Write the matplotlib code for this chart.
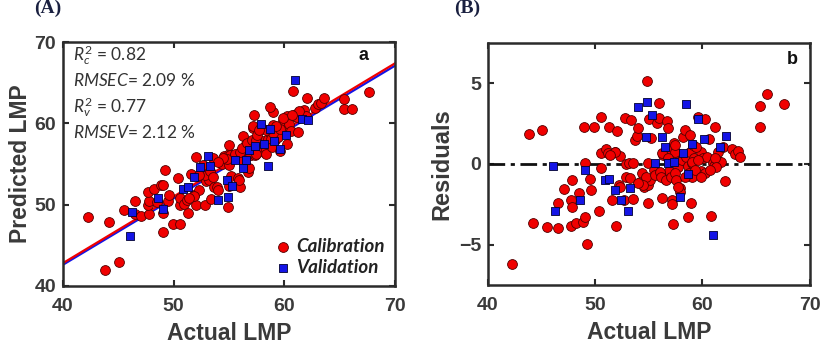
import matplotlib
matplotlib.use("Agg")
import matplotlib.pyplot as plt
import numpy as np

# calibration set: actual LMP and residual (actual - predicted)
cal_actual = np.array([
    42.27, 43.8, 45.07, 44.2, 45.5, 46.5, 46.5, 47.05, 47.8, 47.7,
    47.8, 47.7, 48.2, 48.5, 48.86, 49.08, 49.0, 49.9, 49.07, 49.48,
    49.57, 49.26, 50.57, 50.57, 50.57, 50.4, 50.97, 51.25, 51.19, 51.56,
    52.03, 51.87, 51.97, 52.19, 52.28, 52.68, 52.8, 53.37, 52.9, 53.15,
    52.84, 53.27, 53.52, 53.52, 53.68, 53.9, 53.99, 54.14, 54.4, 54.55,
    54.86, 54.95, 54.95, 55.08, 55.0, 55.17, 54.95, 55.48, 55.76, 55.95,
    55.92, 56.26, 56.32, 56.54, 56.7, 56.79, 56.88, 57.0, 57.16, 57.25,
    57.19, 57.35, 57.56, 57.72, 57.87, 57.87, 58.06, 58.18, 58.34, 58.5,
    58.65, 58.74, 58.8, 58.87, 58.99, 59.05, 58.96, 58.68, 59.18, 59.58,
    59.9, 60.05, 60.2, 59.9, 60.27, 60.42, 60.6, 60.77, 60.98, 61.08,
    61.2, 61.39, 61.5, 61.76, 62.07, 61.92, 62.78, 63.0, 63.31, 63.53,
    65.33, 65.33, 66.05, 67.6,
    56.2, 57.44, 56.79, 59.12, 59.43, 59.0, 59.58, 59.27, 54.77, 54.45,
    53.99, 55.54, 56.0, 56.17, 56.63, 57.1, 57.41, 57.56, 58.34, 59.89,
    57.72, 61.14, 61.3, 60.67, 51.81, 51.34, 52.28, 57.41])
cal_resid = np.array([
    -6.2, 1.84, 2.1, -3.64, -3.9, -4.0, -2.4, -1.53, -1.0, -2.23,
    -2.64, -3.84, -3.68, -1.82, -3.57, -3.3, 2.31, 2.31, 0.04, -0.93,
    -1.61, -4.96, 2.93, 0.66, -0.27, -2.9, 0.93, 2.31, 0.66, -2.23,
    2.05, 0.72, -3.84, -1.3, 0.5, -2.23, 2.83, 2.73, 0.0, 0.08,
    -0.79, -0.89, -2.19, 0.08, 1.49, 1.74, 2.21, -1.1, -0.58, -1.4,
    5.14, -1.3, -2.44, -0.99, 2.77, 1.59, 0.04, -0.37, 2.52, 3.76,
    2.83, -2.13, 0.56, -0.95, 2.69, 2.25, -0.41, 0.87, -2.23, -3.72,
    -2.48, 1.28, 0.66, -0.17, -1.51, -1.71, 0.25, 1.69, 2.1, 0.45,
    -0.12, -0.54, 0.76, 1.8, -0.79, 0.04, -2.4, -3.3, 0.35, 2.93,
    0.76, 0.35, 2.77, -0.41, -0.58, 0.45, 1.53, -3.22, 0.04, -0.1,
    2.31, 0.25, 0.76, 0.14, -1.05, 1.07, 0.91, 0.62, 0.83, 0.45,
    3.62, 2.31, 4.32, 3.7,
    0.66, 0.76, 0.35, 1.18, 1.07, 0.14, 0.25, -0.37, -0.79, -1.3,
    -1.2, -0.68, -0.48, -0.79, -0.99, -0.79, -0.58, -0.99, -0.79, -0.79,
    -1.4, 0.35, -0.17, -0.37, 0.76, 0.56, -1.4, 1.18])

# validation set
val_actual = np.array([
    46.06, 46.22, 48.55, 49.08, 50.88, 51.25, 51.81, 52.37, 53.06, 53.27,
    54.02, 54.86, 54.77, 55.3, 55.55, 56.23, 56.54, 56.79, 57.35, 57.87,
    58.18, 58.5, 58.65, 59.05, 59.58, 60.14, 60.98, 61.6, 62.16])
val_resid = np.array([
    -0.12, -2.89, -2.23, -0.37, -0.99, -0.93, -1.61, -2.23, -2.89, -1.47,
    3.51, 3.86, 1.69, 3.04, 0.04, 1.69, 1.07, 0.08, 0.14, -2.07,
    0.7, 3.7, -0.62, 1.24, 2.77, 1.53, -4.4, 1.07, 1.74])

cal_pred = cal_actual - cal_resid
val_pred = val_actual - val_resid

# fitted lines as drawn in the figure: [slope, intercept]
fit_cal = [0.82, 10.0]
fit_val = [0.817, 9.92]

stats = [r"$R_c^2$ = 0.82", r"$RMSEC$= 2.09 %", r"$R_v^2$ = 0.77", r"$RMSEV$= 2.12 %"]

plt.rcParams['mathtext.fontset'] = 'custom'
plt.rcParams['mathtext.rm'] = 'Lato'
plt.rcParams['mathtext.it'] = 'Lato:italic'

red = '#f00000'
blue = '#1414e6'
dark = '#2b2b2b'
txt = '#3a3a3a'

fig = plt.figure(figsize=(8.27, 3.5), dpi=100)
axA = fig.add_axes([0.076, 0.183, 0.402, 0.697])
axB = fig.add_axes([0.590, 0.186, 0.389, 0.691])


def style(ax):
    for s in ax.spines.values():
        s.set_linewidth(1.8)
        s.set_color(dark)
    ax.tick_params(direction='in', length=4, width=1.5, color=dark,
                   top=True, right=True, labelsize=14, labelcolor=txt)
    ax.tick_params(axis='x', pad=9)
    ax.tick_params(axis='y', pad=5)
    for lab in ax.get_xticklabels() + ax.get_yticklabels():
        lab.set_fontfamily('Liberation Sans')
        lab.set_fontweight('bold')


# panel A
xs = np.array([40, 70])
axA.plot(xs, np.polyval(fit_val, xs), color=blue, lw=1.6, zorder=2)
axA.plot(xs, np.polyval(fit_cal, xs), color=red, lw=1.6, zorder=2)
axA.scatter(cal_actual, cal_pred, s=50, c=red, edgecolors='#500000', linewidths=0.6,
            zorder=3, label='Calibration')
axA.scatter(val_actual, val_pred, s=27, marker='s', c=blue, edgecolors='#000030',
            linewidths=0.6, zorder=4, label='Validation')
axA.set_xlim(40, 70)
axA.set_ylim(40, 70)
axA.set_xticks([40, 50, 60, 70])
axA.set_yticks([40, 50, 60, 70])
style(axA)
axA.set_xlabel('Actual LMP', fontsize=16.5, fontweight='bold', color=txt,
               family='Liberation Sans', labelpad=5)
axA.set_ylabel('Predicted LMP', fontsize=16.5, fontweight='bold', color=txt,
               family='Liberation Sans', labelpad=2)
for s, yy in zip(stats, [0.947, 0.842, 0.734, 0.627]):
    axA.text(0.032, yy, s, transform=axA.transAxes, fontsize=12.5, color='#333333',
             family='Lato', va='center', ha='left')
axA.text(0.89, 0.945, 'a', transform=axA.transAxes, fontsize=13, fontweight='bold',
         family='Liberation Sans', va='center', color='#111111')
leg = axA.legend(loc='lower right', frameon=False, handletextpad=0.1,
                 borderaxespad=0.15, labelspacing=0.2, handlelength=1.2,
                 prop={'family': 'Lato', 'style': 'italic', 'weight': 'bold', 'size': 13.5})
for t in leg.get_texts():
    t.set_color('#222222')

# panel B
axB.axhline(0, color='#111111', lw=2, ls='-.', dashes=(6, 2, 1.5, 2), zorder=2)
axB.scatter(cal_actual, cal_resid, s=50, c=red, edgecolors='#500000', linewidths=0.6,
            zorder=3)
axB.scatter(val_actual, val_resid, s=27, marker='s', c=blue, edgecolors='#000030',
            linewidths=0.6, zorder=4)
axB.set_xlim(40, 70)
axB.set_ylim(-7.5, 7.5)
axB.set_xticks([40, 50, 60, 70])
axB.set_yticks([-5, 0, 5])
style(axB)
axB.set_xlabel('Actual LMP', fontsize=16.5, fontweight='bold', color=txt,
               family='Liberation Sans', labelpad=5)
axB.set_ylabel('Residuals', fontsize=17, fontweight='bold', color=txt,
               family='Liberation Sans', labelpad=4)
axB.text(0.93, 0.93, 'b', transform=axB.transAxes, fontsize=13, fontweight='bold',
         family='Liberation Sans', va='center', color='#111111')

fig.text(0.058, 0.975, '(A)', fontsize=14, fontweight='bold', family='Liberation Serif',
         color='#1a2040', ha='center', va='center')
fig.text(0.565, 0.975, '(B)', fontsize=14, fontweight='bold', family='Liberation Serif',
         color='#1a2040', ha='center', va='center')

fig.savefig('out.png', dpi=100)
